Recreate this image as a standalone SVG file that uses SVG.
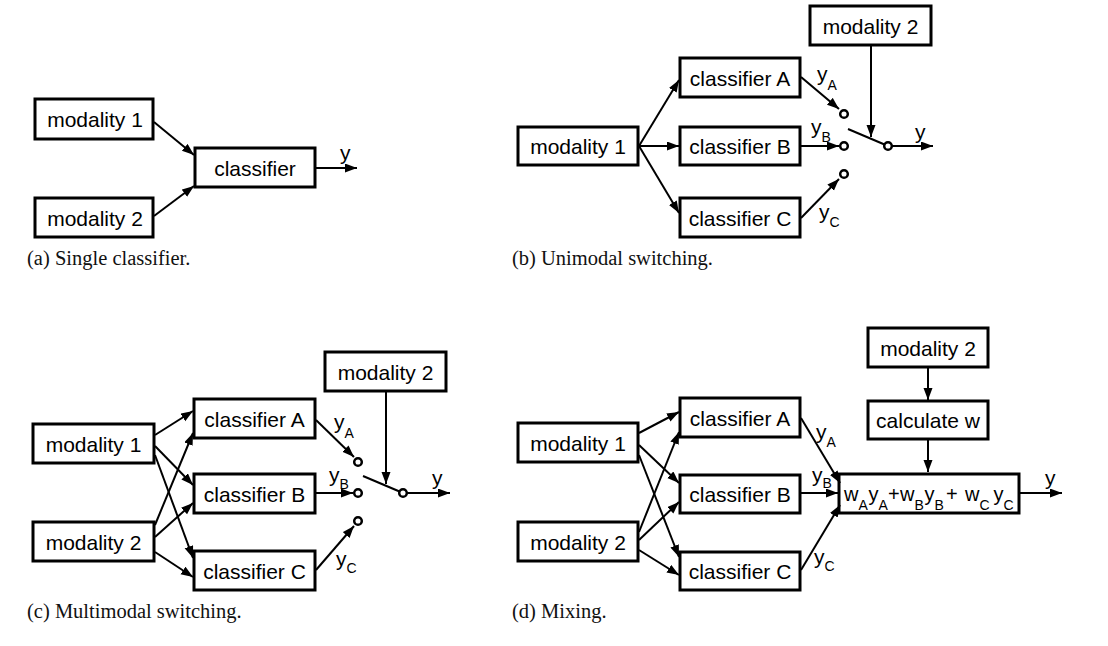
<svg xmlns="http://www.w3.org/2000/svg" width="1108" height="646" viewBox="0 0 1108 646">
<style>
  .box { fill: #ffffff; stroke: #000000; stroke-width: 3; }
  .t { font-family: "Liberation Sans", Arial, sans-serif; font-size: 21px; fill: #000000; text-anchor: middle; }
  .lb { font-family: "Liberation Sans", Arial, sans-serif; font-size: 21px; fill: #000000; }
  .sub { font-family: "Liberation Sans", Arial, sans-serif; font-size: 14px; fill: #000000; }
  .fm { font-family: "Liberation Sans", Arial, sans-serif; font-size: 20px; fill: #000000; }
  .cap { font-family: "Liberation Serif", "DejaVu Serif", serif; font-size: 20.5px; fill: #111111; }
  .c { fill: none; stroke: #000000; stroke-width: 2; }
  .a { fill: none; stroke: #000000; stroke-width: 2; marker-end: url(#arr); }
  .node { fill: #ffffff; stroke: #000000; stroke-width: 2.5; }
</style>
<defs>
  <marker id="arr" markerUnits="userSpaceOnUse" markerWidth="12" markerHeight="10" refX="12" refY="4.5" orient="auto">
    <path d="M0,0 L12,4.5 L0,9 z" fill="#000000"/>
  </marker>
</defs>
<rect width="1108" height="646" fill="#ffffff"/>

<!-- Panel (a) -->
<g id="a-modality1"><rect class="box" x="35" y="99" width="118" height="40"/><text class="t" x="95" y="127">modality 1</text></g>
<g id="a-modality2"><rect class="box" x="35" y="198" width="118" height="39"/><text class="t" x="95" y="225.5">modality 2</text></g>
<g id="a-classifier"><rect class="box" x="195" y="148" width="120" height="39"/><text class="t" x="255" y="176">classifier</text></g>
<g id="a-connectors">
  <line class="a" x1="154" y1="122" x2="194" y2="155"/>
  <line class="a" x1="154" y1="216" x2="194" y2="186"/>
  <line class="a" x1="316" y1="168" x2="357" y2="168"/>
  <text class="lb" x="340" y="160">y</text>
</g>
<text class="cap" x="27" y="265">(a) Single classifier.</text>

<!-- Panel (b) -->
<g id="b-modality2"><rect class="box" x="810" y="6" width="121" height="39"/><text class="t" x="870.5" y="33.5">modality 2</text></g>
<g id="b-classifierA"><rect class="box" x="680" y="58" width="120" height="39"/><text class="t" x="740" y="85.5">classifier A</text></g>
<g id="b-classifierB"><rect class="box" x="680" y="127" width="120" height="38"/><text class="t" x="740" y="154">classifier B</text></g>
<g id="b-classifierC"><rect class="box" x="680" y="198" width="120" height="39"/><text class="t" x="740" y="225.5">classifier C</text></g>
<g id="b-modality1"><rect class="box" x="518" y="127" width="120" height="38"/><text class="t" x="578" y="154">modality 1</text></g>
<g id="b-connectors">
  <line class="a" x1="639" y1="146" x2="679" y2="80"/>
  <line class="a" x1="639" y1="146" x2="679" y2="146"/>
  <line class="a" x1="639" y1="146" x2="679" y2="213"/>
  <line class="a" x1="801" y1="77" x2="839" y2="109"/>
  <line class="a" x1="801" y1="146" x2="839" y2="146"/>
  <line class="a" x1="801" y1="218" x2="839" y2="179"/>
  <line class="c" x1="848" y1="129" x2="884.5" y2="144.5"/>
  <line class="a" x1="871" y1="45" x2="871" y2="137"/>
  <line class="a" x1="892" y1="146" x2="933" y2="146"/>
  <circle class="node" cx="844" cy="114" r="3.8"/>
  <circle class="node" cx="844" cy="146" r="3.8"/>
  <circle class="node" cx="844" cy="174" r="3.8"/>
  <circle class="node" cx="888" cy="146" r="3.8"/>
  <text class="lb" x="817" y="81">y</text><text class="sub" x="827.5" y="90">A</text>
  <text class="lb" x="811" y="134">y</text><text class="sub" x="821.5" y="142">B</text>
  <text class="lb" x="819" y="219">y</text><text class="sub" x="829.5" y="227">C</text>
  <text class="lb" x="915" y="139">y</text>
</g>
<text class="cap" x="512" y="265">(b) Unimodal switching.</text>

<!-- Panel (c) -->
<g id="c-modality2top"><rect class="box" x="325" y="352" width="121" height="39"/><text class="t" x="385.5" y="379.5">modality 2</text></g>
<g id="c-classifierA"><rect class="box" x="194" y="399" width="121" height="39"/><text class="t" x="254.5" y="426.5">classifier A</text></g>
<g id="c-classifierB"><rect class="box" x="194" y="474" width="121" height="39"/><text class="t" x="254.5" y="501.5">classifier B</text></g>
<g id="c-classifierC"><rect class="box" x="194" y="551" width="121" height="39"/><text class="t" x="254.5" y="578.5">classifier C</text></g>
<g id="c-modality1"><rect class="box" x="33" y="424" width="121" height="39"/><text class="t" x="93.5" y="451.5">modality 1</text></g>
<g id="c-modality2"><rect class="box" x="33" y="522" width="121" height="39"/><text class="t" x="93.5" y="549.5">modality 2</text></g>
<g id="c-connectors">
  <line class="a" x1="155" y1="435" x2="193" y2="411"/>
  <line class="a" x1="155" y1="446" x2="193" y2="485"/>
  <line class="a" x1="155" y1="455" x2="193" y2="558"/>
  <line class="a" x1="155" y1="525" x2="193" y2="433"/>
  <line class="a" x1="155" y1="537" x2="193" y2="503"/>
  <line class="a" x1="155" y1="552" x2="193" y2="577"/>
  <line class="a" x1="316" y1="420" x2="354" y2="457"/>
  <line class="a" x1="316" y1="493" x2="353" y2="493"/>
  <line class="a" x1="316" y1="570" x2="354" y2="526"/>
  <line class="c" x1="363" y1="476" x2="399.5" y2="491.5"/>
  <line class="a" x1="386" y1="391" x2="386" y2="484"/>
  <line class="a" x1="407" y1="493" x2="450" y2="493"/>
  <circle class="node" cx="358" cy="462" r="3.8"/>
  <circle class="node" cx="358" cy="493" r="3.8"/>
  <circle class="node" cx="358" cy="521" r="3.8"/>
  <circle class="node" cx="403" cy="493" r="3.8"/>
  <text class="lb" x="334" y="429">y</text><text class="sub" x="344.5" y="438">A</text>
  <text class="lb" x="329" y="482">y</text><text class="sub" x="339.5" y="489">B</text>
  <text class="lb" x="336" y="566">y</text><text class="sub" x="346.5" y="573">C</text>
  <text class="lb" x="432" y="485">y</text>
</g>
<text class="cap" x="27" y="618">(c) Multimodal switching.</text>

<!-- Panel (d) -->
<g id="d-modality1"><rect class="box" x="518" y="423" width="120" height="39"/><text class="t" x="578" y="450.5">modality 1</text></g>
<g id="d-modality2"><rect class="box" x="518" y="522" width="120" height="39"/><text class="t" x="578" y="549.5">modality 2</text></g>
<g id="d-classifierA"><rect class="box" x="680" y="398" width="120" height="39"/><text class="t" x="740" y="425.5">classifier A</text></g>
<g id="d-classifierB"><rect class="box" x="680" y="475" width="120" height="38"/><text class="t" x="740" y="502">classifier B</text></g>
<g id="d-classifierC"><rect class="box" x="680" y="552" width="120" height="38"/><text class="t" x="740" y="579">classifier C</text></g>
<g id="d-modality2top"><rect class="box" x="868" y="328" width="120" height="39"/><text class="t" x="928" y="355.5">modality 2</text></g>
<g id="d-calculate"><rect class="box" x="868" y="401" width="120" height="38"/><text class="t" x="928" y="428">calculate w</text></g>
<g id="d-mix">
  <rect class="box" x="839" y="474" width="180" height="39"/>
  <text class="fm" y="501"><tspan x="844">w</tspan><tspan class="sub" x="858.5" y="510">A</tspan><tspan x="868.5" y="501">y</tspan><tspan class="sub" x="878.5" y="510">A</tspan><tspan x="888" y="501">+</tspan><tspan x="900" y="501">w</tspan><tspan class="sub" x="914.5" y="510">B</tspan><tspan x="924.5" y="501">y</tspan><tspan class="sub" x="934.5" y="510">B</tspan><tspan x="946" y="501">+</tspan><tspan x="965" y="501">w</tspan><tspan class="sub" x="979.5" y="510">C</tspan><tspan x="993.5" y="501">y</tspan><tspan class="sub" x="1003.5" y="510">C</tspan></text>
</g>
<g id="d-connectors">
  <line class="a" x1="639" y1="433" x2="679" y2="412"/>
  <line class="a" x1="639" y1="445" x2="679" y2="483"/>
  <line class="a" x1="639" y1="455" x2="679" y2="557"/>
  <line class="a" x1="639" y1="532" x2="679" y2="432"/>
  <line class="a" x1="639" y1="540" x2="679" y2="502"/>
  <line class="a" x1="639" y1="550" x2="679" y2="575"/>
  <line class="a" x1="928" y1="367" x2="928" y2="400"/>
  <line class="a" x1="928" y1="439" x2="928" y2="472"/>
  <line class="a" x1="801" y1="418" x2="840" y2="483"/>
  <line class="a" x1="801" y1="493" x2="838" y2="493"/>
  <line class="a" x1="801" y1="570" x2="840" y2="505"/>
  <line class="a" x1="1020" y1="493" x2="1062" y2="493"/>
  <text class="lb" x="816" y="439">y</text><text class="sub" x="826.5" y="447">A</text>
  <text class="lb" x="812" y="482">y</text><text class="sub" x="822.5" y="488">B</text>
  <text class="lb" x="814" y="564">y</text><text class="sub" x="824.5" y="571">C</text>
  <text class="lb" x="1045" y="485">y</text>
</g>
<text class="cap" x="512" y="618">(d) Mixing.</text>
</svg>
